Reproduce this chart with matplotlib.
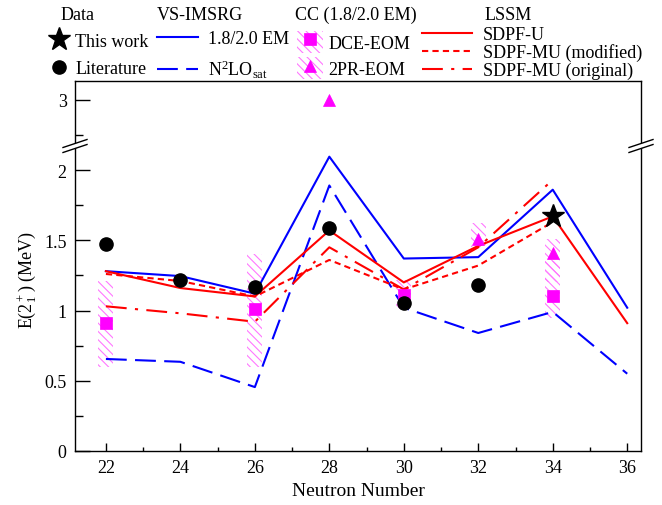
import numpy as np
import matplotlib
matplotlib.use('Agg')
import matplotlib.pyplot as plt
from matplotlib.lines import Line2D
from matplotlib.patches import Patch
from matplotlib.ticker import MultipleLocator, FormatStrFormatter

plt.rcParams['font.family'] = ['Liberation Serif', 'DejaVu Serif']
plt.rcParams['mathtext.fontset'] = 'custom'
plt.rcParams['mathtext.rm'] = 'Liberation Serif'
plt.rcParams['mathtext.it'] = 'Liberation Serif:italic'
plt.rcParams['hatch.linewidth'] = 0.8

# neutron numbers
n_all = [22, 24, 26, 28, 30, 32, 34, 36]
n_lssm = [22, 24, 26, 28, 30, 32, 34]

# experiment
n_lit = [22, 24, 26, 28, 30, 32]
e_lit = [1.47, 1.22, 1.17, 1.59, 1.05, 1.18]
n_this = [34]
e_this = [1.67]

# VS-IMSRG
e_em = [1.28, 1.245, 1.12, 2.095, 1.37, 1.38, 1.86, 1.02]
e_n2lo = [0.655, 0.635, 0.455, 1.89, 1.02, 0.84, 0.99, 0.55]

# CC (1.8/2.0 EM) with uncertainty bands
n_dce = [22, 26, 30, 34]
e_dce = [0.91, 1.01, 1.11, 1.10]
dce_lo = [0.60, 0.60, 1.01, 0.95]
dce_hi = [1.21, 1.40, 1.22, 1.35]
n_2pr = [28, 32, 34]
e_2pr = [3.00, 1.51, 1.41]
n_2pr_band = [32, 34]
pr_lo = [1.45, 1.20]
pr_hi = [1.62, 1.51]

# LSSM
e_sdpfu = [1.28, 1.16, 1.10, 1.57, 1.20, 1.46, 1.67, 0.91]
e_mu_mod = [1.26, 1.21, 1.10, 1.36, 1.15, 1.32, 1.63]
e_mu_orig = [1.03, 0.98, 0.92, 1.45, 1.15, 1.45, 1.93]

BLUE = '#0000ff'
RED = '#ff0000'
MAG = '#ff00ff'
HATCH_C = '#ff77ff'
HATCH = '\\\\\\\\'
LS_N2LO = (0, (10, 4))
LS_MOD = (0, (3, 2))
LS_ORIG = (0, (10, 4, 1.5, 4))

fig = plt.figure(figsize=(6.62, 5.06), dpi=100)
left, right = 75 / 662, 641 / 662
bot, brk, top = 1 - 452 / 506, 1 - 147 / 506, 1 - 82 / 506
ax_top = fig.add_axes([left, brk, right - left, top - brk])
ax = fig.add_axes([left, bot, right - left, brk - bot], sharex=ax_top)


def draw(a):
    a.bar(n_dce, np.subtract(dce_hi, dce_lo), bottom=dce_lo, width=0.4,
          fill=False, hatch=HATCH, edgecolor=HATCH_C, linewidth=0, zorder=1)
    a.bar(n_2pr_band, np.subtract(pr_hi, pr_lo), bottom=pr_lo, width=0.4,
          fill=False, hatch=HATCH, edgecolor=HATCH_C, linewidth=0, zorder=1)
    a.plot(n_all, e_em, color=BLUE, lw=1.5, zorder=2)
    a.plot(n_all, e_n2lo, color=BLUE, lw=1.5, ls=LS_N2LO, zorder=2)
    a.plot(n_all, e_sdpfu, color=RED, lw=1.5, zorder=2)
    a.plot(n_lssm, e_mu_mod, color=RED, lw=1.5, ls=LS_MOD, zorder=2)
    a.plot(n_lssm, e_mu_orig, color=RED, lw=1.5, ls=LS_ORIG, zorder=2)
    a.plot(n_dce, e_dce, 's', color=MAG, ms=8, mew=0.5, zorder=3)
    a.plot(n_2pr, e_2pr, '^', color=MAG, ms=9, mew=0.5, zorder=3)
    a.plot(n_lit, e_lit, 'o', color='k', ms=9.5, zorder=4)
    a.plot(n_this, e_this, '*', color='k', ms=17, zorder=4)


draw(ax_top)
draw(ax)

ax.set_xlim(21.17, 36.37)
ax.set_ylim(0, 2.171)
ax_top.set_ylim(2.673, 3.135)

ax.xaxis.set_major_locator(MultipleLocator(2))
ax.xaxis.set_minor_locator(MultipleLocator(1))
ax.yaxis.set_major_locator(MultipleLocator(0.5))
ax.yaxis.set_minor_locator(MultipleLocator(0.25))
ax_top.yaxis.set_major_locator(MultipleLocator(1))
ax_top.yaxis.set_minor_locator(MultipleLocator(0.25))
ax.yaxis.set_major_formatter(FormatStrFormatter('%g'))
ax_top.yaxis.set_major_formatter(FormatStrFormatter('%g'))

for a in (ax, ax_top):
    a.tick_params(axis='y', which='major', direction='in', length=11, width=1,
                  left=True, right=False, labelsize=13, pad=6)
    a.tick_params(axis='y', which='minor', direction='in', length=5.5, width=1,
                  left=True, right=False)
    for s in a.spines.values():
        s.set_linewidth(1)
ax.tick_params(axis='x', which='major', direction='in', length=6, width=1,
               top=False, labelsize=13, pad=6)
ax.tick_params(axis='x', which='minor', direction='in', length=3, width=1, top=False)
ax_top.tick_params(axis='x', which='both', bottom=False, top=False, labelbottom=False)
ax_top.spines['bottom'].set_visible(False)
ax.spines['top'].set_visible(False)

ax.set_xlabel('Neutron Number', fontsize=14, labelpad=4)
fig.text(27 / 662, 1 - 280 / 506, 'E(2$^+_1$) (MeV)', rotation=90,
         va='center', ha='center', fontsize=13)

# axis break marks
W, H = 662.0, 506.0
for xc in (left, right):
    fig.add_artist(Line2D([xc - 3 / W, xc + 3 / W], [brk - 1 / H, brk + 1 / H],
                          color='white', lw=3, transform=fig.transFigure, zorder=5))
    for dy in (-2.5, 2.5):
        fig.add_artist(Line2D([xc - 12 / W, xc + 12 / W],
                              [brk + (dy - 4) / H, brk + (dy + 4) / H],
                              color='k', lw=1, transform=fig.transFigure, zorder=6))

# legend block
common = dict(frameon=False, fontsize=13, borderpad=0, borderaxespad=0, loc='center left')
h_data = [Line2D([], [], marker='*', color='k', ls='none', ms=17),
          Line2D([], [], marker='o', color='k', ls='none', ms=9.5)]
fig.legend(h_data, ['This work', 'Literature'], bbox_to_anchor=(50 / W, 1 - 56 / H),
           handlelength=1.0, handletextpad=0.4, labelspacing=0.6, **common)

h_vs = [Line2D([], [], color=BLUE, lw=1.5),
        Line2D([], [], color=BLUE, lw=1.5, ls=LS_N2LO)]
fig.legend(h_vs, ['1.8/2.0 EM', 'N$^2$LO$_\\mathrm{sat}$'], bbox_to_anchor=(157 / W, 1 - 56 / H),
           handlelength=2.28, handletextpad=0.55, labelspacing=0.56, **common)

band = Patch(facecolor='none', edgecolor=HATCH_C, hatch=HATCH, lw=0)
h_cc = [(band, Line2D([], [], marker='s', color=MAG, ls='none', ms=8, mew=0.5)),
        (band, Line2D([], [], marker='^', color=MAG, ls='none', ms=9, mew=0.5))]
fig.legend(h_cc, ['DCE-EOM', '2PR-EOM'], bbox_to_anchor=(297 / W, 1 - 56 / H),
           handlelength=1.45, handleheight=1.5, handletextpad=0.3, labelspacing=0.27, **common)

h_lssm = [Line2D([], [], color=RED, lw=1.5),
          Line2D([], [], color=RED, lw=1.5, ls=LS_MOD),
          Line2D([], [], color=RED, lw=1.5, ls=LS_ORIG)]
fig.legend(h_lssm, ['SDPF-U', 'SDPF-MU (modified)', 'SDPF-MU (original)'],
           bbox_to_anchor=(422 / W, 1 - 53.5 / H),
           handlelength=2.78, handletextpad=0.6, labelspacing=0.02, **common)

for x0, title in [(61, 'Data'), (157, 'VS-IMSRG'), (295, 'CC (1.8/2.0 EM)'), (485, 'LSSM')]:
    fig.text(x0 / W, 1 - 15 / H, title, fontsize=13, va='center', ha='left')

fig.savefig('out.png', dpi=100)
